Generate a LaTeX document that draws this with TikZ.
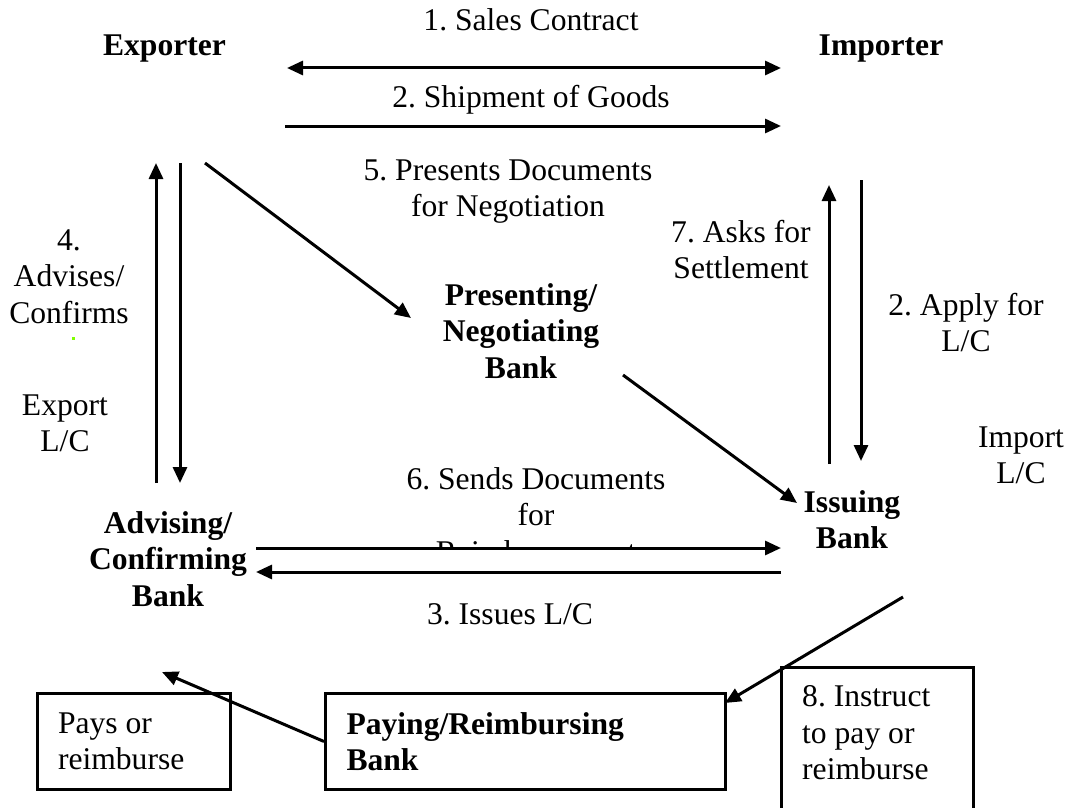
\documentclass[tikz,border=0pt]{standalone}
\usepackage{fontspec}
\setmainfont{Liberation Serif}
\frenchspacing
\usetikzlibrary{arrows.meta,calc}
\definecolor{markgreen}{RGB}{128,255,0}
\begin{document}
\begin{tikzpicture}[x=1pt,y=-1pt,
  lbl/.style={font=\fontsize{31.6}{36.5}\selectfont, inner sep=0pt, align=center, anchor=base},
  party/.style={lbl, font=\fontsize{31.6}{36.5}\selectfont\bfseries},
  flow/.style={line width=3pt, -{Triangle[length=16pt,width=14pt]}},
  twoway/.style={line width=3pt, {Triangle[length=16pt,width=14pt]}-{Triangle[length=16pt,width=14pt]}},
  frame/.style={draw, line width=3pt, anchor=north west, align=flush left,
    font=\fontsize{31.6}{36.5}\selectfont, inner ysep=0pt}]
\useasboundingbox (0,0) rectangle (1066,808);

% parties and banks (base = baseline of the last line)
\node[party] (exporter) at (164.5,56) {Exporter};
\node[party] (importer) at (881,56) {Importer};
\node[party] (negbank) at (521,378) {Presenting/\\Negotiating\\Bank};
\node[party] (issuing) at (852,548.5) {Issuing\\Bank};
\node[party] (advbank) at (168,606) {Advising/\\Confirming\\Bank};

% flow labels
\node[lbl] (sales) at (531,31) {1. Sales Contract};
\node[lbl] (ship) at (531,107) {2. Shipment of Goods};
\node[lbl] (presents) at (508,216.5) {5. Presents Documents\\for Negotiation};
\node[lbl] (asks) at (741,278.5) {7. Asks for\\Settlement};
\node[lbl] (advises) at (69,323) {4.\\Advises/\\Confirms};
\node[lbl] (export) at (65,451.5) {Export\\L/C};
\node[lbl] (apply) at (966,351.5) {2. Apply for\\L/C};
\node[lbl] (import) at (1021,483.5) {Import\\L/C};
\node[lbl] (issues) at (510,624) {3. Issues L/C};
\begin{scope}
  \clip (380,450) rectangle (700,546);
  \node[lbl] (sends) at (536,562) {6. Sends Documents\\for\\Reimbursement};
\end{scope}
\fill[markgreen] (71.5,337) rectangle (75,339.5);

% boxed parties
\node[frame, text width=152pt, inner xsep=20.5pt, minimum height=96pt] (paysbox) at (36,692) {Pays or\\reimburse};
\node[frame, text width=358pt, inner xsep=21pt, minimum height=96pt, font=\fontsize{31.6}{36.5}\selectfont\bfseries] (paybank) at (324,692) {Paying/Reimbursing\\Bank};
\node[anchor=north west, align=flush left, text width=150pt, inner xsep=21pt, inner ysep=18.5pt,
  font=\fontsize{31.6}{36.5}\selectfont] (instruct) at (781,667) {8. Instruct\\to pay or\\reimburse};
\draw[line width=3pt] (instruct.north west) rectangle ++(192,170);

% connector end points
\coordinate (exR1) at (287,68);   \coordinate (imL1) at (781,68);
\coordinate (exR2) at (285,126);  \coordinate (imL2) at (781,126);
\coordinate (exUp) at (156,163);  \coordinate (advUp) at (156,483);
\coordinate (exDn) at (180,163);  \coordinate (advDn) at (180,483);
\coordinate (exDiag) at (205,163); \coordinate (negIn) at (411,318);
\coordinate (negOut) at (623,375); \coordinate (issIn) at (797,503);
\coordinate (imUp) at (829,185);  \coordinate (issUp) at (829,464);
\coordinate (imDn) at (861,180);  \coordinate (issDn) at (861,461);
\coordinate (advR) at (256,548);  \coordinate (issL) at (781,548);
\coordinate (advL) at (256,572);  \coordinate (issL2) at (781,572);
\coordinate (issOut) at (903,597); \coordinate (advIn) at (162,672);

% connectors
\draw[twoway] (exR1) -- (imL1);
\draw[flow] (exR2) -- (imL2);
\draw[flow] (advUp) -- (exUp);
\draw[flow] (exDn) -- (advDn);
\draw[flow] (exDiag) -- (negIn);
\draw[flow] (negOut) -- (issIn);
\draw[flow] (issUp) -- (imUp);
\draw[flow] (imDn) -- (issDn);
\draw[flow] (advR) -- (issL);
\draw[flow] (issL2) -- (advL);
\draw[flow] (issOut) -- ($(paybank.north east)+(-2,11)$);
\draw[flow] (paybank.west) -- (advIn);
\end{tikzpicture}
\end{document}
